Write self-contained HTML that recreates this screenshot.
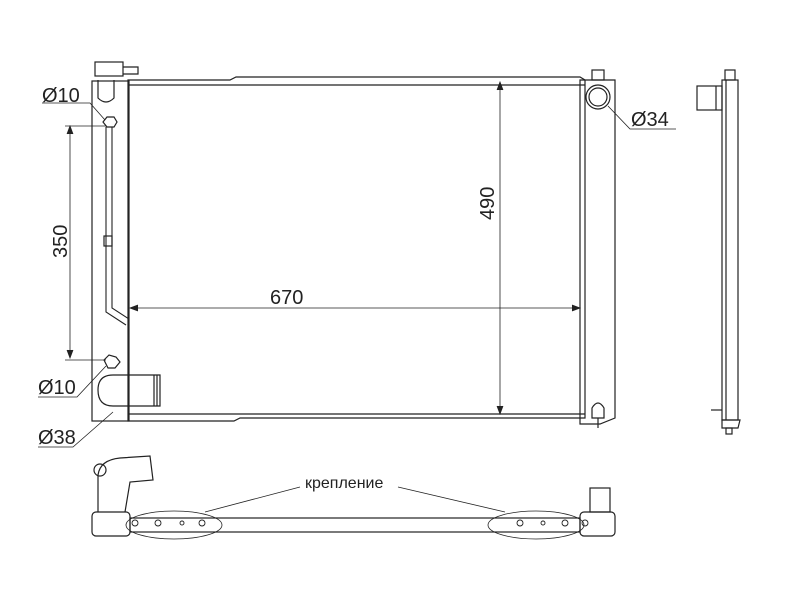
<!DOCTYPE html>
<html><head><style>body{margin:0;background:#fff}svg{display:block}</style></head><body>
<svg width="800" height="600" viewBox="0 0 800 600" xmlns="http://www.w3.org/2000/svg" font-family="Liberation Sans, sans-serif" fill="none" stroke="#222" stroke-width="1.2">
<!-- core -->
<path d="M128 80 L230 80 L236 77 L580 77 L585 80 L585 418 L240 418 L234 421 L128 421 Z"/>
<line x1="128" y1="85" x2="585" y2="85"/>
<line x1="128" y1="414" x2="585" y2="414"/>
<!-- left tank -->
<rect x="92" y="81" width="37" height="340"/>
<path d="M98 80 L98 98 Q106 106 114 98 L114 80"/>
<rect x="95" y="62" width="28" height="14"/>
<path d="M123 67 L138 67 L138 74 L123 74"/>
<!-- pipe -->
<path d="M106 127 L106 312 L126 325 M112 127 L112 308 L129 319" stroke-width="1.1"/>
<path d="M103 122 L107 117 L114 117 L117 122 L114 127 L107 127 Z"/>
<rect x="104" y="236" width="8" height="10"/>
<path d="M104 360 L109 355 L116 357 L120 362 L115 368 L108 368 Z"/>
<path d="M113 375 L160 375 L160 406 L113 406 Q98 406 98 390 Q98 375 113 375 Z"/>
<line x1="154" y1="375" x2="154" y2="406"/><line x1="157" y1="375" x2="157" y2="406"/>
<!-- right tank -->
<path d="M580 80 L615 80 L615 418 L600 424 L580 424 Z"/>
<rect x="592" y="70" width="12" height="10"/>
<circle cx="598" cy="97" r="12"/><circle cx="598" cy="97" r="9"/>
<path d="M592 408 Q598 398 604 408 L604 418 L592 418 Z"/>
<line x1="598" y1="418" x2="598" y2="428"/>
<!-- dims -->
<g stroke-width="0.8">
<line x1="500" y1="82" x2="500" y2="414"/>
<path d="M497 90 L500 82 L503 90 M497 406 L500 414 L503 406" fill="#222"/>
<line x1="130" y1="308" x2="580" y2="308"/>
<path d="M138 305 L130 308 L138 311 M572 305 L580 308 L572 311" fill="#222"/>
<line x1="70" y1="126" x2="70" y2="358"/>
<line x1="65" y1="126" x2="106" y2="126"/><line x1="65" y1="360" x2="106" y2="360"/>
<path d="M67 134 L70 126 L73 134 M67 350 L70 358 L73 350" fill="#222"/>
<path d="M42 103 L90 103 L105 120"/>
<path d="M38 397 L77 397 L106 366"/>
<path d="M38 447 L73 447 L113 412"/>
<path d="M676 129 L630 129 L608 106"/>
</g>
<g fill="#222" stroke="none" font-size="20">
<text x="42" y="102">Ø10</text>
<text x="38" y="394">Ø10</text>
<text x="38" y="444">Ø38</text>
<text x="631" y="126">Ø34</text>
<text x="270" y="304">670</text>
<text transform="translate(494,220) rotate(-90)">490</text>
<text transform="translate(67,258) rotate(-90)">350</text>
<text x="305" y="488" font-size="16">крепление</text>
</g>
<!-- side view -->
<rect x="722" y="80" width="16" height="340"/>
<line x1="726" y1="80" x2="726" y2="420"/>
<rect x="725" y="70" width="10" height="10"/>
<rect x="697" y="86" width="25" height="24"/>
<line x1="716" y1="86" x2="716" y2="110"/>
<path d="M722 420 L740 420 L738 428 L722 428 Z"/>
<rect x="726" y="428" width="6" height="6"/>
<line x1="711" y1="410" x2="722" y2="410"/>
<!-- bottom view -->
<rect x="130" y="518" width="450" height="14"/>
<rect x="92" y="512" width="38" height="24" rx="4"/>
<rect x="580" y="512" width="35" height="24" rx="4"/>
<path d="M98 512 L98 475 Q100 460 120 458 L150 456 L153 480 L130 482 L125 512"/>
<circle cx="100" cy="470" r="6"/>
<rect x="590" y="488" width="20" height="24"/>
<g stroke-width="0.8">
<ellipse cx="174" cy="525" rx="48" ry="14"/>
<ellipse cx="536" cy="525" rx="48" ry="14"/>
<line x1="205" y1="512" x2="300" y2="487"/>
<line x1="505" y1="512" x2="398" y2="487"/>
</g>
<g stroke-width="0.9">
<circle cx="135" cy="523" r="3"/><circle cx="158" cy="523" r="3"/><circle cx="182" cy="523" r="2"/><circle cx="202" cy="523" r="3"/>
<circle cx="520" cy="523" r="3"/><circle cx="543" cy="523" r="2"/><circle cx="565" cy="523" r="3"/><circle cx="585" cy="523" r="3"/>
</g>
</svg>
</body></html>
